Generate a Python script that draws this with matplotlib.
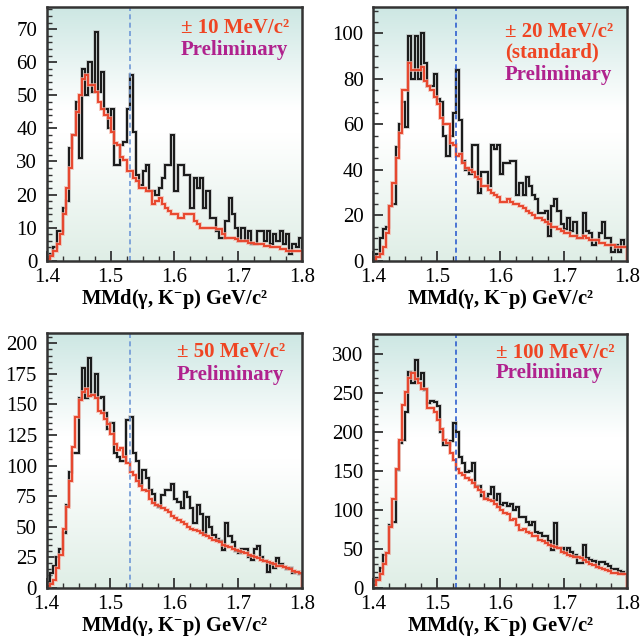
import numpy as np
import matplotlib
matplotlib.use("Agg")
import matplotlib.pyplot as plt
from matplotlib.colors import LinearSegmentedColormap
from matplotlib.ticker import MultipleLocator

# ---------------- data (80 bins, 5 MeV each, 1.40 - 1.80 GeV/c^2) ----------------
x_min, x_max, n_bins = 1.4, 1.8, 80
theta_mass = 1.53

p10_data = [1, 2, 4, 9, 9, 16, 18, 34, 38, 48, 31, 58, 50, 60, 51, 69, 51, 57, 46, 40,
            46, 29, 29, 35, 36, 46, 56, 39, 26, 23, 27, 29, 21, 21, 20, 22, 25, 29, 29, 38,
            21, 29, 29, 26, 26, 16, 25, 22, 25, 16, 21, 13, 13, 9, 7, 7, 12, 19, 14, 10,
            6, 10, 6, 9, 5, 5, 9, 9, 6, 9, 5, 8, 6, 9, 5, 8, 2, 5, 4, 7]
p10_fit = [0.5, 1.5, 3, 5, 8, 14, 22, 28, 38, 45, 50, 55, 56, 53, 53, 51, 48, 46, 44, 43,
           39, 35.5, 35, 31.5, 30.5, 27, 27, 25, 24, 22, 22, 21, 21, 17, 18, 19, 17, 16, 15, 14,
           14, 13, 13, 14, 14, 14, 12, 11, 10, 10, 10, 10, 10, 9.5, 9.5, 8, 7, 7, 7, 6.5,
           6, 6, 6, 5.5, 5.5, 5, 5, 5, 4.5, 4.5, 4, 4, 4, 3.5, 3.5, 3, 3, 3, 3, 3]

p20_data = [1, 3, 10, 14, 15, 24, 25, 50, 60, 70, 59, 99, 80, 99, 80, 100, 87, 77, 77, 82,
            71, 70, 55, 46, 55, 65, 84, 62, 44, 40, 38, 51, 51, 30, 39, 39, 33, 51, 49, 51,
            38, 43, 43, 44, 44, 29, 34, 29, 37, 33, 29, 27, 21, 21, 22, 11, 24, 27, 22, 16,
            14, 19, 13, 17, 10, 10, 21, 13, 12, 7, 9, 12, 17, 10, 10, 4, 7, 4, 9, 6]
p20_fit = [0.5, 1.5, 3, 6, 12, 24, 34, 45, 56, 75, 75, 87, 84, 84, 84, 85, 79, 77, 75, 72,
           69, 63, 60, 60, 52, 51, 46, 47, 43, 41, 40, 39, 37, 36, 33, 33, 31, 30, 29, 28,
           26, 26, 27, 26, 25, 25, 24, 23, 22, 21, 20, 19, 19, 18, 17, 16, 15, 15, 14, 13,
           12, 12, 11, 11, 10, 10, 11, 10, 9, 9, 9, 8, 8, 7, 7, 7, 6, 6, 6, 6]

p50_data = [5, 12, 18, 25, 32, 45, 68, 95, 110, 110, 155, 180, 155, 188, 158, 175, 155, 156, 143, 130,
            135, 110, 107, 104, 104, 137, 140, 110, 104, 85, 96, 90, 80, 77, 68, 66, 76, 80, 80, 85,
            73, 70, 65, 78, 74, 65, 53, 68, 60, 45, 58, 50, 43, 40, 38, 31, 53, 42, 37, 30,
            28, 32, 32, 25, 23, 32, 34, 25, 22, 13, 19, 16, 24, 19, 17, 15, 16, 12, 13, 11]
p50_fit = [1, 3, 6, 16, 27, 48, 66, 87, 115, 140, 154, 160, 163, 157, 158, 155, 145, 143, 138, 134,
           126, 118, 113, 114, 107, 102, 95, 92, 87, 83, 80, 79, 73, 69, 68, 67, 65, 64, 62, 59,
           57, 55, 54, 52, 50, 48, 47, 46, 45, 43, 42, 41, 39, 38, 37, 35, 34, 33, 32, 31,
           30, 29, 28, 27, 26, 25, 24, 23, 22, 21, 20, 19, 18, 18, 17, 16, 15, 14, 13, 12]

p100_data = [8, 13, 25, 42, 44, 80, 85, 151, 186, 190, 226, 277, 263, 293, 268, 276, 254, 237, 240, 238,
             233, 200, 183, 183, 188, 212, 200, 168, 160, 149, 150, 160, 131, 131, 118, 115, 121, 130, 113, 121,
             106, 109, 105, 108, 100, 104, 91, 91, 85, 80, 85, 72, 70, 66, 66, 60, 48, 83, 51, 51,
             44, 51, 46, 42, 32, 32, 55, 38, 36, 34, 27, 33, 33, 31, 28, 24, 24, 22, 20, 18]
p100_fit = [3, 10, 18, 31, 44, 78, 114, 153, 190, 235, 252, 270, 276, 268, 263, 255, 255, 231, 231, 226,
            216, 204, 190, 186, 173, 164, 153, 148, 145, 141, 138, 134, 130, 126, 123, 114, 113, 111, 108, 104,
            100, 96, 95, 87, 88, 80, 74, 76, 72, 70, 66, 66, 61, 60, 57, 55, 53, 52, 51, 46,
            45, 42, 41, 40, 39, 38, 35, 33, 31, 29, 27, 25, 24, 23, 21, 19, 19, 18, 18, 18]

panel_labels = [["\u00b1 10 MeV/c\u00b2"],
                ["\u00b1 20 MeV/c\u00b2", "(standard)"],
                ["\u00b1 50 MeV/c\u00b2"],
                ["\u00b1 100 MeV/c\u00b2"]]
prelim_text = "Preliminary"
xlabel_text = "MMd(\u03b3, K$^{\\mathbf{-}}$p) GeV/c\u00b2"

# ---------------- style ----------------
plt.rcParams['font.family'] = ['Liberation Serif', 'DejaVu Serif']
plt.rcParams['mathtext.fontset'] = 'custom'
plt.rcParams['mathtext.rm'] = 'Liberation Serif:bold'
plt.rcParams['mathtext.bf'] = 'Liberation Serif:bold'
plt.rcParams['mathtext.it'] = 'Liberation Serif:bold:italic'

edges = np.linspace(x_min, x_max, n_bins + 1)

fig = plt.figure(figsize=(6.4, 6.39), dpi=100)

positions = [
    [0.0734, 0.592, 0.3984, 0.397],
    [0.5833, 0.592, 0.3969, 0.397],
    [0.0730, 0.0803, 0.3984, 0.3986],
    [0.5833, 0.0803, 0.3969, 0.397],
]
ylims = [76.7, 111.6, 208.5, 326.0]
ymajor = [10, 20, 25, 50]
yminor = [2, 5, 5, 10]
datas = [p10_data, p20_data, p50_data, p100_data]
fits = [p10_fit, p20_fit, p50_fit, p100_fit]
dash_colors = ['#6f98d6', '#2f5fcf', '#6f98d6', '#2f5fcf']
text_x = [0.525, 0.518, 0.51, 0.483]
text_y = [[0.917, 0.83], [0.903, 0.819, 0.732], [0.927, 0.835], [0.924, 0.845]]

grad_cmap = LinearSegmentedColormap.from_list(
    "bg", [(0.0, '#dfeee6'), (0.5, '#ffffff'), (0.6, '#ffffff'), (1.0, '#cde7e3')])
grad = np.linspace(0, 1, 256).reshape(-1, 1)

for k in range(4):
    ax = fig.add_axes(positions[k])
    ax.imshow(grad, extent=[0, 1, 0, 1], transform=ax.transAxes, aspect='auto',
              cmap=grad_cmap, origin='lower', zorder=0, interpolation='bicubic')
    # data histogram
    ax.stairs(datas[k], edges, color='#b8b8b8', lw=2.8, alpha=0.55, zorder=2)
    ax.stairs(datas[k], edges, color='#1c1c1c', lw=1.5, zorder=3)
    # fitted background
    ax.stairs(fits[k], edges, color='#f5b3a6', lw=2.8, alpha=0.7, zorder=4)
    ax.stairs(fits[k], edges, color='#e8472e', lw=1.4, zorder=5)
    # theta+ mass line
    ax.axvline(theta_mass, color=dash_colors[k], lw=1.2, ls=(0, (3, 2)), zorder=6)

    ax.set_xlim(x_min, x_max)
    ax.set_ylim(0, ylims[k])
    ax.xaxis.set_major_locator(MultipleLocator(0.1))
    ax.xaxis.set_minor_locator(MultipleLocator(0.025))
    ax.yaxis.set_major_locator(MultipleLocator(ymajor[k]))
    ax.yaxis.set_minor_locator(MultipleLocator(yminor[k]))
    ax.xaxis.set_major_formatter(matplotlib.ticker.FormatStrFormatter('%.1f'))
    ax.tick_params(which='major', direction='in', length=7.5, width=1.3, labelsize=15,
                   color='#333333')
    ax.tick_params(axis='x', which='major', pad=5)
    ax.tick_params(axis='y', which='major', pad=7)
    ax.tick_params(which='minor', direction='in', length=3.8, width=1.0, color='#333333')
    ax.tick_params(top=False, right=False)
    for sp in ax.spines.values():
        sp.set_linewidth(1.8)
        sp.set_color('#333333')
        sp.set_zorder(10)

    ax.set_xlabel(xlabel_text, fontsize=14.8, fontweight='bold', labelpad=0)

    lines = panel_labels[k]
    for j, t in enumerate(lines):
        ax.text(text_x[k], text_y[k][j], t, transform=ax.transAxes, fontsize=15,
                fontweight='bold', color='#ef4523', ha='left', va='center', zorder=8)
    ax.text(text_x[k], text_y[k][len(lines)], prelim_text, transform=ax.transAxes,
            fontsize=15, fontweight='bold', color='#b0228e', ha='left', va='center', zorder=8)

fig.savefig("out.png", dpi=100)
